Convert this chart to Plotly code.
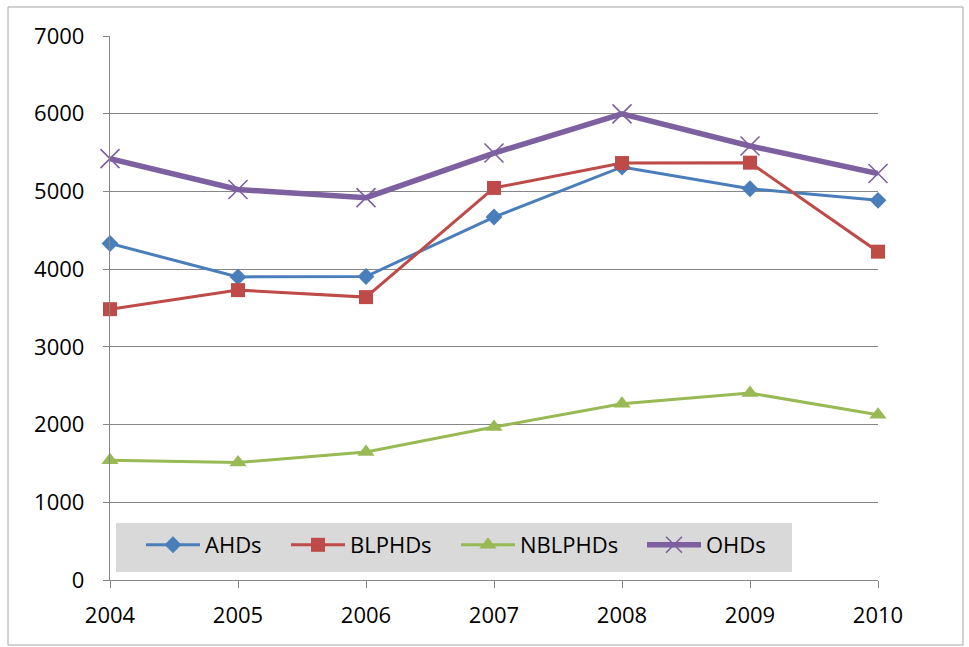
import plotly.graph_objects as go

years = [2004, 2005, 2006, 2007, 2008, 2009, 2010]
ahds = [4330, 3900, 3905, 4670, 5315, 5035, 4885]
blphds = [3485, 3730, 3640, 5045, 5365, 5370, 4225]
nblphds = [1540, 1512, 1646, 1968, 2268, 2405, 2127]
ohds = [5422, 5025, 4920, 5494, 5998, 5585, 5230]

FONT = "Open Sans"
W, H = 969, 647
L, R, T, B = 110, 91, 36, 67
PW, PH = W - L - R, H - T - B


def px_to_paper(x, y):
    return (x - L) / PW, (H - B - y) / PH


fig = go.Figure()

series = [
    ("AHDs", ahds, "#4a7ebb", 3, dict(symbol="diamond", size=13, color="#4a7ebb")),
    ("BLPHDs", blphds, "#be4b48", 3, dict(symbol="square", size=14, color="#be4b48")),
    ("NBLPHDs", nblphds, "#98b954", 3, dict(symbol="triangle-up", size=15, color="#98b954")),
    ("OHDs", ohds, "#7d60a0", 5.5,
     dict(symbol="x-thin", size=19, color="#7d60a0", line=dict(width=1.6, color="#7d60a0"))),
]

# each entry gets its own legend so the entries can be spaced like the original key
legend_left_px = [141, 286, 456, 642]
legend_ids = ["legend", "legend2", "legend3", "legend4"]

for (name, vals, color, width, marker), lid in zip(series, legend_ids):
    fig.add_trace(go.Scatter(
        x=years, y=vals, name=name, mode="lines+markers",
        line=dict(color=color, width=width), marker=marker,
        cliponaxis=False, legend=lid,
    ))

# outer frame and legend box
fx0, fy0 = px_to_paper(8, 645)
fx1, fy1 = px_to_paper(963, 7)
lx0, ly0 = px_to_paper(116, 572)
lx1, ly1 = px_to_paper(792, 523)
fig.add_shape(type="rect", xref="paper", yref="paper", x0=fx0, y0=fy0, x1=fx1, y1=fy1,
              line=dict(color="#a6a6a6", width=1), fillcolor="rgba(0,0,0,0)", layer="below")
fig.add_shape(type="rect", xref="paper", yref="paper", x0=lx0, y0=ly0, x1=lx1, y1=ly1,
              line=dict(width=0), fillcolor="#d9d9d9", layer="below")

legends = {}
for lid, xpx in zip(legend_ids, legend_left_px):
    lx, ly = px_to_paper(xpx, 524)
    legends[lid] = dict(
        orientation="h", x=lx, y=ly, xanchor="left", yanchor="top",
        bgcolor="rgba(0,0,0,0)", itemwidth=54,
        font=dict(family=FONT, size=22, color="black"),
    )

fig.update_layout(
    width=W, height=H,
    margin=dict(l=L, r=R, t=T, b=B),
    paper_bgcolor="white", plot_bgcolor="rgba(0,0,0,0)",
    font=dict(family=FONT, size=22, color="black"),
    showlegend=True,
    xaxis=dict(
        range=[2004, 2010], tickvals=years, ticktext=[str(y) for y in years],
        showgrid=False, zeroline=False, showline=True, linecolor="#868686", linewidth=1.3,
        ticks="outside", ticklen=7, tickcolor="#868686", tickwidth=1.3,
        ticklabelstandoff=8, tickfont=dict(size=22),
    ),
    yaxis=dict(
        range=[0, 7000], dtick=1000, tickformat="d",
        showgrid=True, gridcolor="#868686", gridwidth=1.3, zeroline=False,
        showline=True, linecolor="#868686", linewidth=1.3,
        ticks="outside", ticklen=6, tickcolor="#868686", tickwidth=1.3,
        ticklabelstandoff=14, tickfont=dict(size=22),
    ),
    **legends,
)

fig.write_html("out.html")
